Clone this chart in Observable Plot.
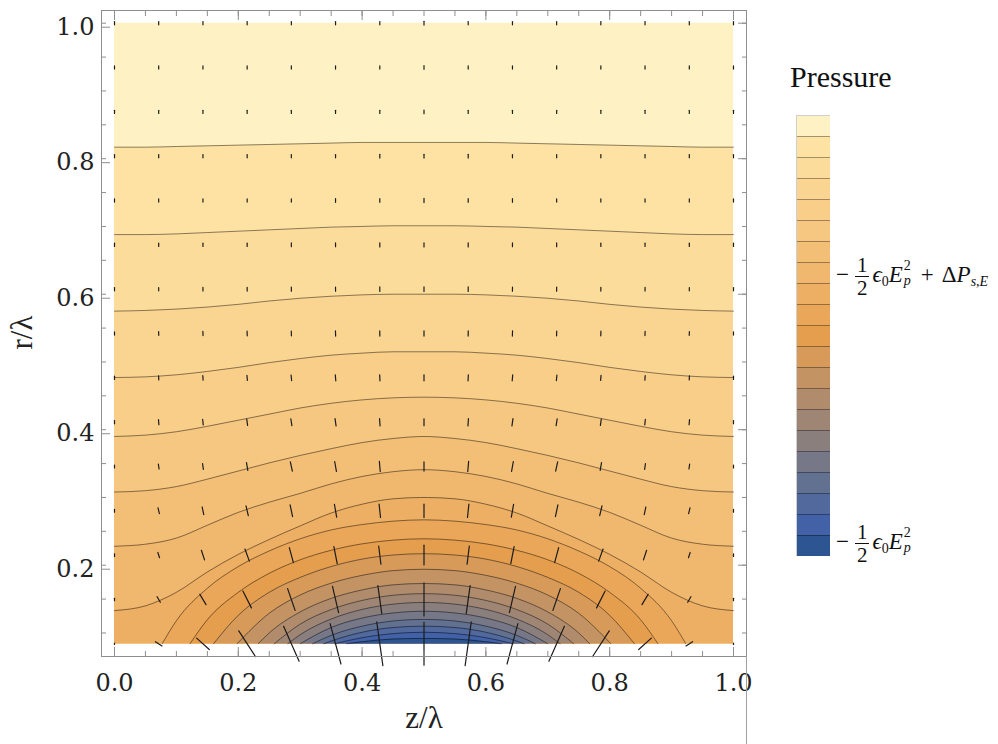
<!DOCTYPE html>
<html>
<head>
<meta charset="utf-8">
<script src="https://cdn.jsdelivr.net/npm/d3@7"></script>
<script src="https://cdn.jsdelivr.net/npm/@observablehq/plot@0.6"></script>
<style>
  body { margin: 0; background: #fff; }
  #wrap { position: relative; width: 998px; height: 744px; overflow: hidden; background: #fff; }
  #chart { position: absolute; left: 0; top: 0; }
  #legendBar { position: absolute; left: 796px; top: 115px; }
  .title { position: absolute; left: 790px; top: 62px; font: 30px "Liberation Serif", serif; color: #111; line-height: 1; }
  .lab { position: absolute; left: 836px; font-family: "Liberation Serif", "DejaVu Serif", serif; font-size: 23px; line-height: 24px; color: #111; white-space: nowrap; }
  .frac { display: inline-flex; flex-direction: column; vertical-align: middle; text-align: center; margin: 0 3px 0 4px; font-size: 21px; line-height: 20px; }
  .frac .num { border-bottom: 1.4px solid #111; padding: 0 2px 1px 2px; }
  .frac .den { padding-top: 1px; }
  .ss { display: inline-block; position: relative; width: 10px; height: 14px; margin-left: 1px; vertical-align: baseline; }
  .ss .sup { position: absolute; left: 0; top: -9px; font-size: 14px; line-height: 14px; }
  .ss .sub { position: absolute; left: 0; top: 6px; font-size: 14px; line-height: 14px; }
  sub { font-size: 14px; vertical-align: -4px; line-height: 0; }
  .op { margin-right: 2px; }
  .plus { margin: 0 8px 0 7px; }
  #edge { position: absolute; left: 746px; top: 656px; width: 1px; height: 88px; background: #a0a0a0; }
</style>
</head>
<body>
<div id="wrap">
  <div id="chart"></div>
  <div id="edge"></div>
  <div class="title">Pressure</div>
  <div id="legendBar"></div>
  <div class="lab" id="labTop" style="top:255px;"><span class="op">−</span><span class="frac"><span class="num">1</span><span class="den">2</span></span><i>ϵ</i><sub>0</sub><i>E</i><span class="ss"><span class="sup">2</span><span class="sub"><i>p</i></span></span><span class="plus">+</span>Δ<i>P</i><sub><i>s</i>,<i>E</i></sub></div>
  <div class="lab" id="labBot" style="top:522px;"><span class="op">−</span><span class="frac"><span class="num">1</span><span class="den">2</span></span><i>ϵ</i><sub>0</sub><i>E</i><span class="ss"><span class="sup">2</span><span class="sub"><i>p</i></span></span></div>
</div>
<script>
// ---------- data ----------
const rMin = 0.084;                 // lower edge of the computed region (r/λ)
const zGrid = [0,0.05,0.1,0.15,0.2,0.25,0.3,0.35,0.4,0.45,0.5,0.55,0.6,0.65,0.7,0.75,0.8,0.85,0.9,0.95,1];

// contours that cross the whole width (r/λ at each zGrid point), highest pressure first
const contour1 = [.817,.817,.818,.819,.820,.821,.822,.823,.824,.824,.824,.824,.824,.823,.822,.821,.820,.819,.818,.817,.817];
const contour2 = [.688,.688,.689,.691,.693,.695,.697,.699,.700,.701,.701,.701,.700,.699,.697,.695,.693,.691,.689,.688,.688];
const contour3 = [.575,.576,.578,.581,.585,.590,.594,.597,.599,.600,.600,.600,.599,.597,.594,.590,.585,.581,.578,.576,.575];
const contour4 = [.477,.478,.481,.486,.492,.499,.505,.510,.513,.515,.515,.515,.513,.510,.505,.499,.492,.486,.481,.478,.477];
const contour5 = [.390,.392,.397,.405,.414,.423,.432,.439,.444,.447,.448,.447,.444,.439,.432,.423,.414,.405,.397,.392,.390];
const contour6 = [.308,.310,.316,.327,.339,.351,.362,.372,.381,.387,.390,.387,.381,.372,.362,.351,.339,.327,.316,.310,.308];
const contour7 = [.228,.231,.240,.259,.278,.293,.306,.320,.331,.338,.341,.338,.331,.320,.306,.293,.278,.259,.240,.231,.228];
const contour8 = [.133,.140,.160,.190,.216,.238,.258,.277,.290,.298,.300,.298,.290,.277,.258,.238,.216,.190,.160,.140,.133];

// closed arcs that end on the lower edge (null = arc not present at that z)
const arc9  = [null,null,.118,.166,.198,.221,.239,.252,.260,.265,.267,.265,.260,.252,.239,.221,.198,.166,.118,null,null];
const arc10 = [null,null,null,.1195,.160,.188,.208,.222,.2315,.237,.239,.237,.2315,.222,.208,.188,.160,.1195,null,null,null];
const arc11 = [null,null,null,null,.126,.160,.182,.198,.209,.215,.217,.215,.209,.198,.182,.160,.126,null,null,null,null];
const arc12 = [null,null,null,null,null,.129,.156,.1735,.185,.192,.194,.192,.185,.1735,.156,.129,null,null,null,null,null];
const arc13 = [null,null,null,null,null,.100,.131,.151,.1635,.171,.173,.171,.1635,.151,.131,.100,null,null,null,null,null];
const arc14 = [null,null,null,null,null,null,.113,.1345,.148,.1556,.158,.1556,.148,.1345,.113,null,null,null,null,null,null];
const arc15 = [null,null,null,null,null,null,.0974,.1205,.1347,.1425,.145,.1425,.1347,.1205,.0974,null,null,null,null,null,null];
const arc16 = [null,null,null,null,null,null,null,.108,.122,.1295,.132,.1295,.122,.108,null,null,null,null,null,null,null];
const arc17 = [null,null,null,null,null,null,null,.0964,.110,.1176,.120,.1176,.110,.0964,null,null,null,null,null,null,null];
const arc18 = [null,null,null,null,null,null,null,.088,.101,.108,.110,.108,.101,.088,null,null,null,null,null,null,null];
const arc19 = [null,null,null,null,null,null,null,null,.093,.099,.101,.099,.093,null,null,null,null,null,null,null,null];
const arc20 = [null,null,null,null,null,null,null,null,.087,.091,.092,.091,.087,null,null,null,null,null,null,null,null];
const arcEndLeft  = [0.077,0.122,0.160,0.198,0.232,0.258,0.280,0.300,0.320,0.338,0.356,0.375];
const arcEndRight = [0.923,0.878,0.840,0.802,0.768,0.742,0.720,0.700,0.680,0.662,0.644,0.625];

// band colours, top band (highest pressure) first
const bandColors = ["#fef1c3","#fde2a3","#fcdc9a","#fad591","#f8ce89","#f6c780","#f3bf77","#f0b76e","#edaf64","#eaa75a","#e59e4d",
                    "#d79a59","#c49363","#b18c6c","#9f8674","#8b7f7e","#777887","#637191","#51699c","#4261a6","#2c5591"];

// field-direction segments on a 15 x 15 grid
const vecZ = [0,0.0714,0.1429,0.2143,0.2857,0.3571,0.4286,0.5,0.5714,0.6429,0.7143,0.7857,0.8571,0.9286,1];
const vecR = [1.0,0.9346,0.8691,0.8037,0.7383,0.6729,0.6074,0.5420,0.4766,0.4111,0.3457,0.2803,0.2149,0.1494,0.0840];
const vecMagnitude = [
  [7,7,7,7,7,7,7,8,7,7,7,7,7,7,7],
  [7,7,7,7,7,7,7,8,7,7,7,7,7,7,7],
  [7,7,7,7,7,7,7,8,7,7,7,7,7,7,7],
  [7,7,7,7,7,7,8,8,8,7,7,7,7,7,7],
  [7,7,7,7,7,8,8,9,8,8,7,7,7,7,7],
  [7,7,7,7,8,8,9,9,9,8,8,7,7,7,7],
  [7,7,8,8,9,9,10,10,10,9,9,8,8,7,7],
  [7,8,9,10,10,11,11,11,11,11,10,10,9,8,7],
  [7,9,10,11,12,13,13,13,13,13,12,11,10,9,7],
  [7,11,12,14,15,16,16,15,16,16,15,14,12,11,7],
  [6,11,13,17,21,22,22,20,22,22,21,17,13,11,6],
  [6,13,17,22,26,28,29,29,29,28,26,22,17,13,6],
  [6,12,22,28,34,38,40,43,40,38,34,28,22,12,6],
  [5,14,26,41,50,59,61,72,61,59,50,41,26,14,5],
  [3,17,37,67,83,91,96,93,96,91,83,67,37,17,3]
];
const vecAngle = [
  [0,0,0,0,0,0,0,0,0,0,0,0,0,0,0],
  [0,0,0,0,0,0,0,0,0,0,0,0,0,0,0],
  [0,0,0,0,0,0,0,0,0,0,0,0,0,0,0],
  [0,0,0,0,0,0,0,0,0,0,0,0,0,0,0],
  [0,0,0,0,0,0,0,0,0,0,0,0,0,0,0],
  [0,0,0,0,0,0,0,0,0,0,0,0,0,0,0],
  [0,-1,-1,-1,-1,-1,0,0,0,1,1,1,1,1,0],
  [0,-2,-2,-2,-2,-2,-1,0,1,2,2,2,2,2,0],
  [0,-3,-4,-5,-6,-5,-3,0,3,5,6,5,4,3,0],
  [0,-5,-6,-8,-9,-8,-4,0,4,8,9,8,6,5,0],
  [0,-8,-8,-10,-12,-10,-5,0,5,10,12,10,8,8,0],
  [0,-13,-12,-13,-12,-10,-6,0,6,10,12,13,12,13,0],
  [0,-18,-18,-20,-15,-11,-7,0,7,11,15,20,18,18,0],
  [0,-30,-31,-27,-19,-13,-8,0,8,13,19,27,31,30,0],
  [0,-57,-48,-33,-24,-15,-8,0,8,15,24,33,48,57,0]
];

const xMajorTicks = [0,0.2,0.4,0.6,0.8,1.0];
const xMinorTicks = [0,0.05,0.1,0.15,0.2,0.25,0.3,0.35,0.4,0.45,0.5,0.55,0.6,0.65,0.7,0.75,0.8,0.85,0.9,0.95,1];
const yMajorTicks = [0.2,0.4,0.6,0.8,1.0];
const yMinorTicks = [0.1,0.15,0.2,0.25,0.3,0.35,0.4,0.45,0.5,0.55,0.6,0.65,0.7,0.75,0.8,0.85,0.9,0.95,1.0];

// ---------- tables built from the arrays ----------
const fullContours = [contour1,contour2,contour3,contour4,contour5,contour6,contour7,contour8];
const arcs = [arc9,arc10,arc11,arc12,arc13,arc14,arc15,arc16,arc17,arc18,arc19,arc20];
const contourPaths = [];
fullContours.forEach(c => contourPaths.push(zGrid.map((z, i) => ({z, r: c[i], r0: rMin}))));
arcs.forEach((c, k) => {
  const pts = [{z: arcEndLeft[k], r: rMin, r0: rMin}];
  zGrid.forEach((z, i) => { if (c[i] != null) pts.push({z, r: c[i], r0: rMin}); });
  pts.push({z: arcEndRight[k], r: rMin, r0: rMin});
  contourPaths.push(pts);
});
const vectors = [];
vecR.forEach((r, i) => vecZ.forEach((z, j) => vectors.push({z, r, m: vecMagnitude[i][j], a: vecAngle[i][j]})));

const segment = { draw(context, l) { context.moveTo(0, 0); context.lineTo(0, -l); } };
const gray = "#8e8e8e";
const serif = "DejaVu Serif";

const chart = Plot.plot({
  width: 760,
  height: 744,
  marginLeft: 101,
  marginRight: 14,
  marginTop: 10,
  marginBottom: 88,
  style: { fontFamily: serif, fontSize: "24px", background: "transparent", overflow: "visible" },
  x: { domain: [0, 1], insetLeft: 13, insetRight: 13 },
  y: { domain: [rMin, 1], insetTop: 12.7, insetBottom: 12.7 },
  length: { type: "linear", domain: [0, 100], range: [0, 46] },
  marks: [
    Plot.rect([{x1: 0, x2: 1, y1: rMin, y2: 1}], {x1: "x1", x2: "x2", y1: "y1", y2: "y2", fill: bandColors[0]}),
    ...contourPaths.map((pts, k) => Plot.areaY(pts, {x: "z", y1: "r0", y2: "r", fill: bandColors[k + 1], curve: "monotone-x"})),
    ...contourPaths.map(pts => Plot.line(pts, {x: "z", y: "r", curve: "monotone-x", stroke: "#000", strokeOpacity: 0.45, strokeWidth: 1})),
    Plot.vector(vectors, {x: "z", y: "r", length: "m", rotate: "a", anchor: "middle", shape: segment, stroke: "#1c1c1c", strokeWidth: 1.2}),
    Plot.frame({stroke: gray}),
    Plot.axisX({anchor: "bottom", ticks: xMinorTicks, tickSize: -5, stroke: gray, fill: "none", label: null}),
    Plot.axisX({anchor: "bottom", ticks: xMajorTicks, tickSize: -9, tickPadding: 26, tickFormat: d3.format(".1f"), stroke: gray, fill: "#222", fontSize: 24, label: null}),
    Plot.axisX({anchor: "top", ticks: xMinorTicks, tickSize: -5, stroke: gray, fill: "none", label: null}),
    Plot.axisX({anchor: "top", ticks: xMajorTicks, tickSize: -9, stroke: gray, fill: "none", label: null}),
    Plot.axisY({anchor: "left", ticks: yMinorTicks, tickSize: -5, stroke: gray, fill: "none", label: null}),
    Plot.axisY({anchor: "left", ticks: yMajorTicks, tickSize: -9, tickPadding: 16, tickFormat: d3.format(".1f"), stroke: gray, fill: "#222", fontSize: 24, dy: 4, label: null}),
    Plot.axisY({anchor: "right", ticks: yMinorTicks, tickSize: -5, stroke: gray, fill: "none", label: null}),
    Plot.axisY({anchor: "right", ticks: yMajorTicks, tickSize: -9, stroke: gray, fill: "none", label: null}),
    Plot.text(["z/λ"], {frameAnchor: "bottom", dy: 71, fontSize: 31, fontFamily: "Liberation Serif", fill: "#222"}),
    Plot.text(["r/λ"], {frameAnchor: "left", dx: -79, dy: 16, rotate: -90, fontSize: 31, fontFamily: "Liberation Serif", fill: "#222"})
  ]
});
document.getElementById("chart").append(chart);

// colour bar legend
const bandData = bandColors.map((c, i) => ({c, lo: 20 - i, hi: 21 - i, x1: 0, x2: 1}));
const bandEdges = [1,2,3,4,5,6,7,8,9,10,11,12,13,14,15,16,17,18,19,20];
const legendBar = Plot.plot({
  width: 34,
  height: 441,
  margin: 0,
  x: { axis: null, domain: [0, 1] },
  y: { axis: null, domain: [0, 21] },
  color: { type: "identity" },
  marks: [
    Plot.rect(bandData, {x1: "x1", x2: "x2", y1: "lo", y2: "hi", fill: "c"}),
    Plot.ruleY(bandEdges, {stroke: "#000", strokeOpacity: 0.35}),
    Plot.frame({stroke: "#cfcfcf"})
  ]
});
document.getElementById("legendBar").append(legendBar);
</script>
</body>
</html>
